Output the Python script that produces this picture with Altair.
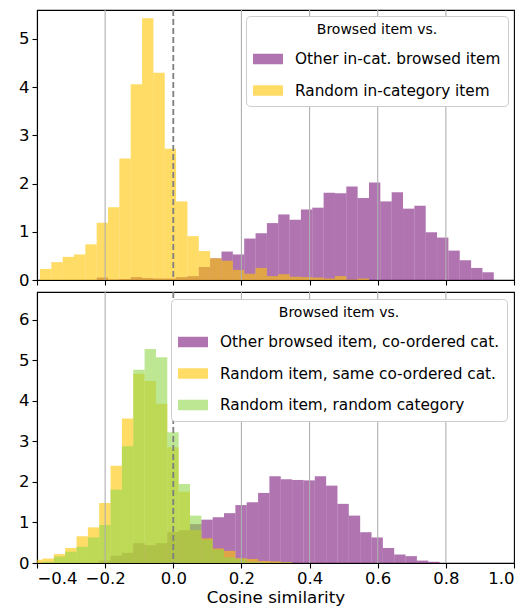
import altair as alt
import pandas as pd

# ---------------- data ----------------
BIN_W = 0.0333
TOP_EDGE0 = -0.358     # left edge of bin index 0, top panel
BOT_EDGE0 = -0.0176    # left edge of bin index 0, bottom panel

top_names = ["Other in-cat. browsed item", "Random in-category item"]
top_colors = ["#7b197b", "#ffc400"]
top_purple_k0 = 4
top_purple = [0.05, 0.01, 0.02, 0.06, 0.04, 0.03, 0.03, 0.06, 0.08, 0.27,
              0.45, 0.59, 0.53, 0.86, 0.97, 1.18, 1.36, 1.25, 1.46, 1.50,
              1.81, 1.80, 1.94, 1.70, 2.02, 1.63, 1.82, 1.48, 1.54, 0.99,
              0.88, 0.61, 0.41, 0.25, 0.16]
top_yellow_k0 = -1
top_yellow = [0.23, 0.37, 0.48, 0.53, 0.74, 1.19, 1.51, 2.52, 4.06, 5.43,
              4.30, 2.72, 1.63, 0.91, 0.60, 0.45, 0.40, 0.21, 0.13, 0.25,
              0.08, 0.12, 0.07, 0.06, 0.05, 0.03, 0.08, 0.01, 0.03]

bot_names = ["Other browsed item, co-ordered cat.",
             "Random item, same co-ordered cat.",
             "Random item, random category"]
bot_colors = ["#7b197b", "#ffc400", "#91d74b"]
bot_purple_k0 = -6
bot_purple = [0.06, 0.18, 0.25, 0.49, 0.44, 0.49, 0.76, 0.81, 0.96, 1.07,
              1.13, 1.23, 1.43, 1.50, 1.73, 2.14, 2.07, 2.05, 2.04, 2.14,
              1.91, 1.46, 1.17, 0.76, 0.63, 0.37, 0.21, 0.17, 0.06, 0.03]
bot_yellow_k0 = -12
bot_yellow = [0.08, 0.11, 0.22, 0.37, 0.66, 0.88, 1.48, 2.40, 3.57, 4.67,
              4.49, 3.93, 2.86, 1.76, 0.81, 0.61, 0.36, 0.30, 0.12, 0.10,
              0.05, 0.04, 0.02]
bot_green_k0 = -11
bot_green = [0.03, 0.16, 0.28, 0.40, 0.63, 0.94, 1.81, 2.88, 4.77, 5.28,
             5.08, 3.23, 1.95, 1.17, 0.58, 0.33, 0.14, 0.10, 0.03, 0.02,
             0.01, 0.01]

x_ticks = [-0.4, -0.2, 0.0, 0.2, 0.4, 0.6, 0.8, 1.0]
grid_x = [-0.2, 0.2, 0.4, 0.6, 0.8]
zero_x = [0.0]
top_yticks = [0, 1, 2, 3, 4, 5]
bot_yticks = [0, 1, 2, 3, 4, 5, 6]
TOP_YMAX = 5.6
BOT_YMAX = 6.69

FONT = "DejaVu Sans"
RECT = "M-1,-0.35L1,-0.35L1,0.35L-1,0.35Z"


def make_df(series, edge0):
    rows = []
    for order, (name, k0, vals) in enumerate(series):
        for i, v in enumerate(vals):
            k = k0 + i
            rows.append({"series": name, "ord": order,
                         "x0": edge0 + k * BIN_W,
                         "x1": edge0 + (k + 1) * BIN_W,
                         "density": v, "base": 0.0})
    return pd.DataFrame(rows)


top_df = make_df([(top_names[0], top_purple_k0, top_purple),
                  (top_names[1], top_yellow_k0, top_yellow)], TOP_EDGE0)
bot_df = make_df([(bot_names[0], bot_purple_k0, bot_purple),
                  (bot_names[1], bot_yellow_k0, bot_yellow),
                  (bot_names[2], bot_green_k0, bot_green)], BOT_EDGE0)


def panel(df, names, colors, ymax, yticks, bottom, legend_offset, height):
    xscale = alt.Scale(domain=[-0.4, 1.0], nice=False, zero=False)
    if bottom:
        xaxis = alt.Axis(values=x_ticks, format=".1f", grid=False,
                         title="Cosine similarity", labelPadding=2,
                         titlePadding=3)
    else:
        xaxis = alt.Axis(values=x_ticks, labels=False, grid=False,
                         title=None, minExtent=0, maxExtent=5)
    legend = alt.Legend(
        title="Browsed item vs.", orient="top-right", offset=legend_offset,
        padding=7, fillColor="white", strokeColor="#cccccc",
        cornerRadius=4, titleFontSize=14, titleFontWeight="normal",
        titleFont=FONT, titleColor="black", titleAnchor="middle",
        titlePadding=7, labelFont=FONT, labelFontSize=15.3,
        labelColor="black", labelLimit=400, labelOffset=12,
        symbolType=RECT, symbolSize=900, symbolStrokeWidth=0,
        symbolOpacity=0.6, rowPadding=7.5)
    bars = alt.Chart(df).mark_bar(opacity=0.6, clip=True, strokeWidth=0).encode(
        x=alt.X("x0:Q", scale=xscale, axis=xaxis),
        x2="x1:Q",
        y=alt.Y("density:Q", stack=None,
                scale=alt.Scale(domain=[0, ymax], nice=False),
                axis=alt.Axis(values=yticks, grid=False, title=None,
                              minExtent=28, labelPadding=3)),
        y2="base:Q",
        color=alt.Color("series:N",
                        scale=alt.Scale(domain=names, range=colors),
                        legend=legend),
        order=alt.Order("ord:Q"),
    )
    grid = alt.Chart(pd.DataFrame({"x": grid_x})).mark_rule(
        color="#b0b0b0", strokeWidth=1.1).encode(
        x=alt.X("x:Q", scale=xscale))
    zero = alt.Chart(pd.DataFrame({"x": zero_x})).mark_rule(
        color="#7f7f7f", strokeWidth=1.8, strokeDash=[6, 3]).encode(
        x=alt.X("x:Q", scale=xscale))
    return alt.layer(bars, grid, zero).properties(width=477, height=height)


top = panel(top_df, top_names, top_colors, TOP_YMAX, top_yticks, False, 6, 270)
bot = panel(bot_df, bot_names, bot_colors, BOT_YMAX, bot_yticks, True, 7, 271)

chart = alt.vconcat(top, bot, spacing=0).resolve_scale(
    color="independent").properties(
    padding={"left": 0, "top": 0, "right": 0, "bottom": 0}
).configure_axis(
    labelFont=FONT, labelFontSize=16.5, titleFont=FONT, titleFontSize=16.7,
    titleFontWeight="normal", labelColor="black", titleColor="black",
    domainColor="black", tickColor="black", tickSize=5, domainWidth=1.1,
    tickWidth=1.1
).configure_view(stroke="black", strokeWidth=1.1)

chart.save("out.html", embed_options={"renderer": "svg", "actions": False})
